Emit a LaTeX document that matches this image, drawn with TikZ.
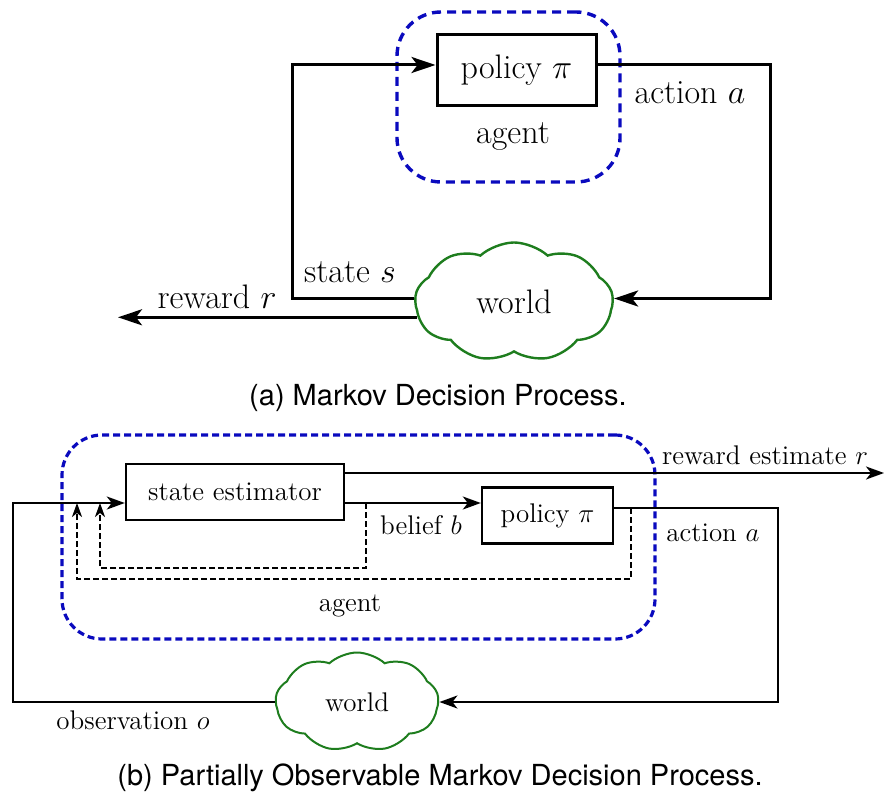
\RequirePackage{fix-cm}
\documentclass[tikz,border=0pt]{standalone}
\usepackage{fontspec}
\setsansfont{TeX Gyre Heros}
\usepackage{tikz}
\usetikzlibrary{shapes.symbols, arrows.meta, calc}
\definecolor{agentblue}{RGB}{10,10,190}
\definecolor{worldgreen}{RGB}{30,125,30}

\begin{document}
\begin{tikzpicture}[x=0.5pt, y=-0.5pt]
\useasboundingbox (0,0) rectangle (886,806);

\begin{scope}[>={Stealth[length=12pt, width=8pt, inset=3pt]}, line width=1.5pt,
    every node/.style={font=\fontsize{17}{20}\selectfont},
    agentbox/.style={draw=agentblue, line width=1.7pt, dash pattern=on 4.5pt off 3pt, rounded corners=22pt},
    blockbox/.style={draw, minimum width=79.5pt, minimum height=35.5pt},
    worldcloud/.style={cloud, draw=worldgreen, line width=1.2pt, cloud puffs=9, cloud puff arc=85, cloud ignores aspect, inner sep=0pt, minimum width=99pt, minimum height=59.5pt}]
    \node(agentA)[agentbox, minimum width=111.5pt, minimum height=85pt] at (508.5,97) {};
    \node(policyA)[blockbox] at (516.5,70.5) {policy $\pi$};
    \node(agentlabelA) at (513,137) {agent};
    \node(worldA)[worldcloud] at (514,302) {world};
    \coordinate (leftA) at (292,65);
    \coordinate (rightA) at (770,65);
    \coordinate (rewardA) at (118,317);

    \draw[->] (worldA.178) -| (leftA) -- (leftA -| policyA.west);
    \draw[->] (rightA -| policyA.east) -- (rightA) |- (worldA.2);
    \draw[->] (worldA.189) -- (worldA.189 -| rewardA);

    \node(actionA) at (690,93) {action $a$};
    \node(stateA) at (350,272) {state $s$};
    \node(rewardtextA) at (217,297) {reward $r$};
\end{scope}

\node(captionA)[font=\sffamily\fontsize{14.5}{17}\selectfont] at (438,398) {(a) Markov Decision Process.};

\begin{scope}[>={Stealth[length=9pt, width=6.5pt, inset=2.5pt]}, line width=1pt,
    every node/.style={font=\fontsize{13.5}{16}\selectfont},
    agentbox/.style={draw=agentblue, line width=1.6pt, dash pattern=on 3.5pt off 2pt, rounded corners=20pt},
    blockbox/.style={draw, line width=1.2pt, minimum height=28pt},
    worldcloud/.style={cloud, draw=worldgreen, cloud puffs=9, cloud puff arc=85, cloud ignores aspect, inner sep=0pt, minimum width=81.5pt, minimum height=49.5pt},
    feedback/.style={dashed, dash pattern=on 3pt off 1.5pt, ->, >={Stealth[length=7pt, width=5pt, inset=2pt]}}]
    \node(agentB)[agentbox, minimum width=296.5pt, minimum height=102pt] at (358.5,537) {};
    \node(estB)[blockbox, minimum width=109pt] at (235,492) {state estimator};
    \node(policyB)[blockbox, minimum width=65.5pt] at (547.5,515.5) {policy $\pi$};
    \node(agentlabelB) at (350,606) {agent};
    \node(worldB)[worldcloud] at (357,702) {world};
    \coordinate (leftB) at (13,503);
    \coordinate (midB) at (420,503);
    \coordinate (rightB) at (778,508);
    \coordinate (rewardB) at (884,473);
    \coordinate (tapB1) at (366,503);
    \coordinate (loopB1) at (100,568);
    \coordinate (tapB2) at (631,508);
    \coordinate (loopB2) at (77,579);

    \draw[->] (worldB.west) -| (leftB) -- (leftB -| estB.west);
    \draw[->] (rewardB -| estB.east) -- (rewardB);
    \draw[->] (midB -| estB.east) -- (midB -| policyB.west);
    \draw[->] (rightB -| policyB.east) -- (rightB) |- (worldB.east);
    \draw[feedback] (tapB1) |- (loopB1) -- (loopB1 |- leftB);
    \draw[feedback] (tapB2) |- (loopB2) -- (loopB2 |- leftB);

    \node(rewardtextB) at (765,455) {reward estimate $r$};
    \node(beliefB) at (421,525) {belief $b$};
    \node(actionB) at (713,533) {action $a$};
    \node(observationB) at (133,720) {observation $o$};
\end{scope}

\node(captionB)[font=\sffamily\fontsize{14.5}{17}\selectfont] at (440,778) {(b) Partially Observable Markov Decision Process.};
\end{tikzpicture}
\end{document}
